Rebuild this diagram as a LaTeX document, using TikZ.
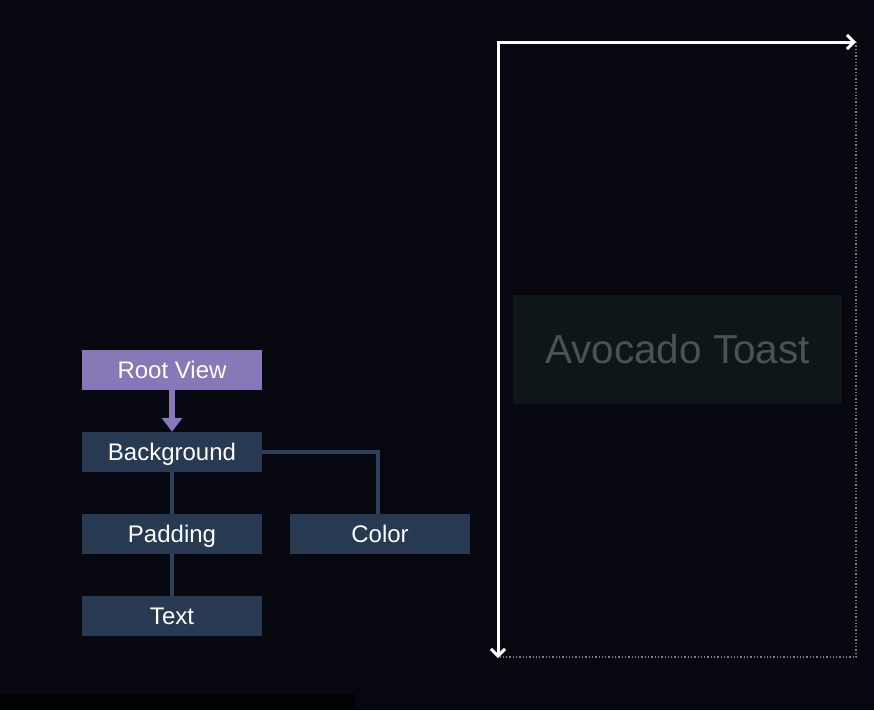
\documentclass[tikz,border=0pt]{standalone}
\usepackage{fontspec}
\setmainfont{Liberation Sans}
\usetikzlibrary{arrows.meta}
\definecolor{bgc}{HTML}{06070F}
\definecolor{purp}{HTML}{8878B8}
\definecolor{navy}{HTML}{283A52}
\definecolor{navyline}{HTML}{2E405C}
\definecolor{toastbg}{HTML}{0E1618}
\definecolor{toasttx}{HTML}{4A5254}
\definecolor{dotc}{HTML}{7A7C86}
\tikzset{
  viewbox/.style={fill=navy, minimum width=180pt, minimum height=40pt, inner sep=0pt, text=white, text height=17pt, text depth=0pt, font=\fontsize{24}{28}\selectfont},
  rootbox/.style={viewbox, fill=purp},
  link/.style={draw=navyline, line width=4pt},
  axis/.style={draw=white, line width=3pt, -{Straight Barb[length=7pt,width=14pt,line width=3pt]}},
  guide/.style={draw=dotc, line width=1.3pt, dash pattern=on 1.3pt off 2pt}
}
\begin{document}
\begin{tikzpicture}[x=1pt,y=-1pt]
\useasboundingbox (0,0) rectangle (874,710);
\fill[bgc] (0,0) rectangle (874,710);
\fill[black!80!bgc] (0,694) rectangle (355,710);
% tree
\node[rootbox] (root) at (172,370) {Root View};
\node[viewbox] (bg) at (172,452) {Background};
\node[viewbox] (pad) at (172,534) {Padding};
\node[viewbox] (col) at (380,534) {Color};
\node[viewbox] (txt) at (172,616) {Text};
\draw[draw=purp, line width=6pt, -{Triangle[length=14pt,width=20pt]}] (root.south) -- (bg.north);
\draw[link] (bg.south) -- (pad.north);
\draw[link] (pad.south) -- (txt.north);
\draw[link] (bg.east) -| ([xshift=-2pt]col.north);
% canvas
\coordinate (o) at (498,42);
\coordinate (xe) at (856,42);
\coordinate (ye) at (498,658);
\coordinate (c) at (856,657);
\draw[guide] (xe) -- (c) -- (500,657);
\draw[axis] (498,43.5) -- (ye);
\draw[axis] (496.5,42) -- (xe);
\node[fill=toastbg, minimum width=329pt, minimum height=109pt, inner sep=0pt, text=toasttx, text height=28pt, text depth=0pt, font=\fontsize{40.5}{46}\selectfont] (toast) at (677.5,349.5) {Avocado Toast};
\end{tikzpicture}
\end{document}
